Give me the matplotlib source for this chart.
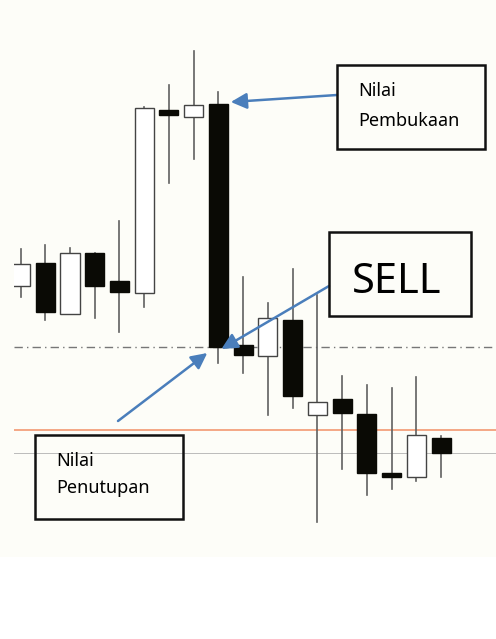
import matplotlib.pyplot as plt
from matplotlib.patches import Rectangle

# OHLC values (arbitrary price units)
opens = [35.3, 37.6, 32.5, 38.6, 35.8, 34.6, 52.9, 52.2, 53.5, 29.4, 28.3, 31.9, 22.4, 24.0, 22.5, 16.6, 16.2, 20.1]
highs = [39.0, 39.4, 39.1, 38.6, 41.8, 53.2, 55.4, 58.8, 54.7, 36.2, 33.6, 37.0, 34.4, 26.3, 25.4, 25.1, 26.2, 20.3]
lows = [34.2, 31.9, 32.5, 32.1, 30.7, 33.2, 45.6, 48.0, 27.6, 26.6, 22.4, 23.1, 11.7, 17.0, 14.4, 15.0, 15.8, 16.2]
closes = [37.5, 32.7, 38.6, 35.3, 34.7, 53.1, 52.4, 53.4, 29.2, 28.4, 32.1, 24.3, 23.7, 22.6, 16.6, 16.2, 20.4, 18.6]

sell_close_level = 29.2   # dash-dot line
orange_level = 20.9
gray_level = 18.6

label_open = ['Nilai', 'Pembukaan']
label_close = ['Nilai', 'Penutupan']
label_sell = 'SELL'

W, H = 496, 639
fig = plt.figure(figsize=(W / 100, H / 100), dpi=100)
fig.patch.set_facecolor('#fdfdf8')
# white strip at the bottom of the page
fig.patches.append(Rectangle((0, 0), 1, 82 / H, transform=fig.transFigure,
                             facecolor='white', edgecolor='none', zorder=0))

ax = fig.add_axes([14 / W, 0, 482 / W, 1])
ax.set_facecolor('none')
ax.set_xlim(-0.263, 19.22)
ax.set_ylim(0, 63.9)
ax.axis('off')

width = 0.77
for i, (o, h, l, c) in enumerate(zip(opens, highs, lows, closes)):
    ax.plot([i, i], [l, h], color='#606060', lw=1.2, zorder=2)
    bottom = min(o, c)
    height = abs(c - o)
    if c >= o:
        ax.add_patch(Rectangle((i - width / 2, bottom), width, height,
                               facecolor='white', edgecolor='#444444', lw=1.0, zorder=3))
    else:
        ax.add_patch(Rectangle((i - width / 2, bottom), width, height,
                               facecolor='#0a0a05', edgecolor='#0a0a05', lw=1.0, zorder=3))

ax.axhline(sell_close_level, color='#777777', lw=1.0, ls=(0, (6, 3, 1, 3)), zorder=1)
ax.axhline(orange_level, color='#f4a07c', lw=1.3, zorder=1)
ax.axhline(gray_level, color='#bbbbbb', lw=0.7, zorder=1)


def px(x, y):
    # figure pixels from the top-left corner
    return (x, H - y)


def text_box(x0, y0, x1, y1):
    fig.patches.append(Rectangle((x0 / W, 1 - y1 / H), (x1 - x0) / W, (y1 - y0) / H,
                                 transform=fig.transFigure, facecolor='none',
                                 edgecolor='#111111', lw=1.8, zorder=5))


font = 'Noto Sans'
text_box(337, 65, 485, 149)
fig.text(358 / W, 1 - 96 / H, label_open[0], fontsize=13, family=font, va='baseline')
fig.text(358 / W, 1 - 126 / H, label_open[1], fontsize=13, family=font, va='baseline')

text_box(329, 232, 471, 316)
fig.text(352 / W, 1 - 293 / H, label_sell, fontsize=30, family=font, va='baseline')

text_box(35, 435, 183, 519)
fig.text(56 / W, 1 - 466 / H, label_close[0], fontsize=13, family=font, va='baseline')
fig.text(56 / W, 1 - 493 / H, label_close[1], fontsize=13, family=font, va='baseline')

arrow = dict(arrowstyle='-|>', color='#4a7ebb', lw=1.8, mutation_scale=24, shrinkA=0, shrinkB=0)
ax.annotate('', xy=(8.5, opens[8] + 0.2), xycoords='data',
            xytext=px(337, 95), textcoords='figure pixels', arrowprops=arrow)
ax.annotate('', xy=(8.12, closes[8] - 0.2), xycoords='data',
            xytext=px(329, 286), textcoords='figure pixels', arrowprops=arrow)
ax.annotate('', xy=(7.55, closes[8] - 0.6), xycoords='data',
            xytext=px(118, 421), textcoords='figure pixels', arrowprops=arrow)

fig.savefig('out.png', dpi=100, facecolor=fig.get_facecolor())
